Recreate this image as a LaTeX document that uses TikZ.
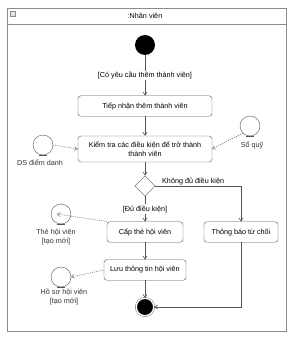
\documentclass[tikz,border=0pt]{standalone}
\usepackage{fontspec}
\setmainfont{Liberation Sans}
\usetikzlibrary{shapes.geometric, arrows.meta, positioning}
\definecolor{linegray}{HTML}{555555}
\definecolor{framegray}{HTML}{8C8C8C}
\tikzset{
  % activity boxes
  action/.style={rectangle, draw=linegray, fill=white, rounded corners=3pt,
                 minimum height=0.72cm, align=center, inner sep=2pt},
  % initial / final nodes
  startnode/.style={circle, fill=black, minimum size=0.7cm, inner sep=0pt},
  endnode/.style={circle, fill=black, draw=linegray, double=white,
                  double distance=1.2pt, minimum size=0.62cm, inner sep=0pt},
  % decision node
  decision/.style={diamond, draw=linegray, fill=white, aspect=1,
                   minimum size=0.72cm, inner sep=0pt},
  % entity objects
  entobj/.style={circle, draw=linegray, minimum size=0.7cm, inner sep=0pt},
  entlabel/.style={align=center, text=black!80},
  % control flow and object flow
  flow/.style={-{Straight Barb[length=3pt,width=4pt]}, draw=linegray, semithick},
  objflow/.style={-{Straight Barb[length=3pt,width=4pt]}, draw=linegray,
                  dash pattern=on 1.2pt off 1pt},
}

\begin{document}
\begin{tikzpicture}[x=0.035cm, y=-0.035cm, font=\fontsize{7.2}{8.4}\selectfont]
\useasboundingbox (0,0) rectangle (293,338);

% ── Swimlane frame ───────────────────────────────────────────────────────────
\draw[framegray, thick] (7,8) rectangle (286,331);
\draw[framegray] (7,24) -- (286,24);
\node (lane) at (145,16) {:Nhân viên};
\draw[framegray, fill=black!10] (10,11) rectangle (15,16);

% ── Main column ──────────────────────────────────────────────────────────────
\node[startnode] (start)    at (145,45)  {};
\node[action, minimum width=4.69cm] (tiepnhan) at (145,106) {Tiếp nhận thêm thành viên};
\node[action, minimum width=4.69cm, minimum height=0.91cm, inner sep=1pt]
      (kiemtra) at (145,149) {Kiểm tra các điều kiện để trở thành\\thành viên};
\node[decision] (dieukien) at (145,186) {};
\node[action, minimum width=2.66cm] (capthe)   at (145,232) {Cấp thẻ hội viên};
\node[action, minimum width=2.87cm] (luu)      at (145,270) {Lưu thông tin hội viên};
\node[endnode]  (final)    at (145,307) {};

% ── Reject branch ────────────────────────────────────────────────────────────
\node[action, minimum width=2.59cm] (tuchoi) at (241,232) {Thông báo từ chối};

% ── Entity objects ───────────────────────────────────────────────────────────
\node[entobj] (ds)    at (43,145)  {};
\node[entlabel] (dslbl) at (40,163) {DS điểm danh};
\node[entobj] (soquy) at (250,126) {};
\node[entlabel] (soquylbl) at (252,145) {Sổ quỹ};
\node[entobj] (the)   at (61,214)  {};
\node[entlabel] (thelbl) at (56,237) {Thẻ hội viên\\{[tạo mới]}};
\node[entobj] (hoso)  at (61,277)  {};
\node[entlabel] (hosolbl) at (64,297) {Hồ sơ hội viên\\{[tạo mới]}};

\draw[linegray] ([xshift=-4pt]ds.south) -- ([xshift=4pt]ds.south);
\draw[linegray] ([xshift=-4pt]soquy.south) -- ([xshift=4pt]soquy.south);
\draw[linegray] ([xshift=-4pt]the.south) -- ([xshift=4pt]the.south);
\draw[linegray] ([xshift=-4pt]hoso.south) -- ([xshift=4pt]hoso.south);

% ── Control flows ────────────────────────────────────────────────────────────
\draw[flow] (start) -- node[fill=white, inner sep=1pt]{[Có yêu cầu thêm thành viên]} (tiepnhan);
\draw[flow] (tiepnhan) -- (kiemtra);
\draw[flow] (kiemtra) -- (dieukien);
\draw[flow] (dieukien) -- node[fill=white, inner sep=1pt]{[Đủ điều kiện]} (capthe);
\draw[flow] (dieukien.east) -| node[pos=0.22, above, inner sep=1pt]{Không đủ điều kiện} (tuchoi.north);
\draw[flow] (capthe) -- (luu);
\draw[flow] (luu) -- (final);
\draw[flow] (tuchoi.south) |- (final.east);

% ── Object flows ─────────────────────────────────────────────────────────────
\draw[objflow] (ds.east) -- (kiemtra.west);
\draw[objflow] (soquy.south west) -- (kiemtra.east);
\draw[objflow] (capthe.north west) -- ([xshift=-4pt]the.center);
\draw[objflow] (luu.west) -- (hoso.east);

\end{tikzpicture}
\end{document}
